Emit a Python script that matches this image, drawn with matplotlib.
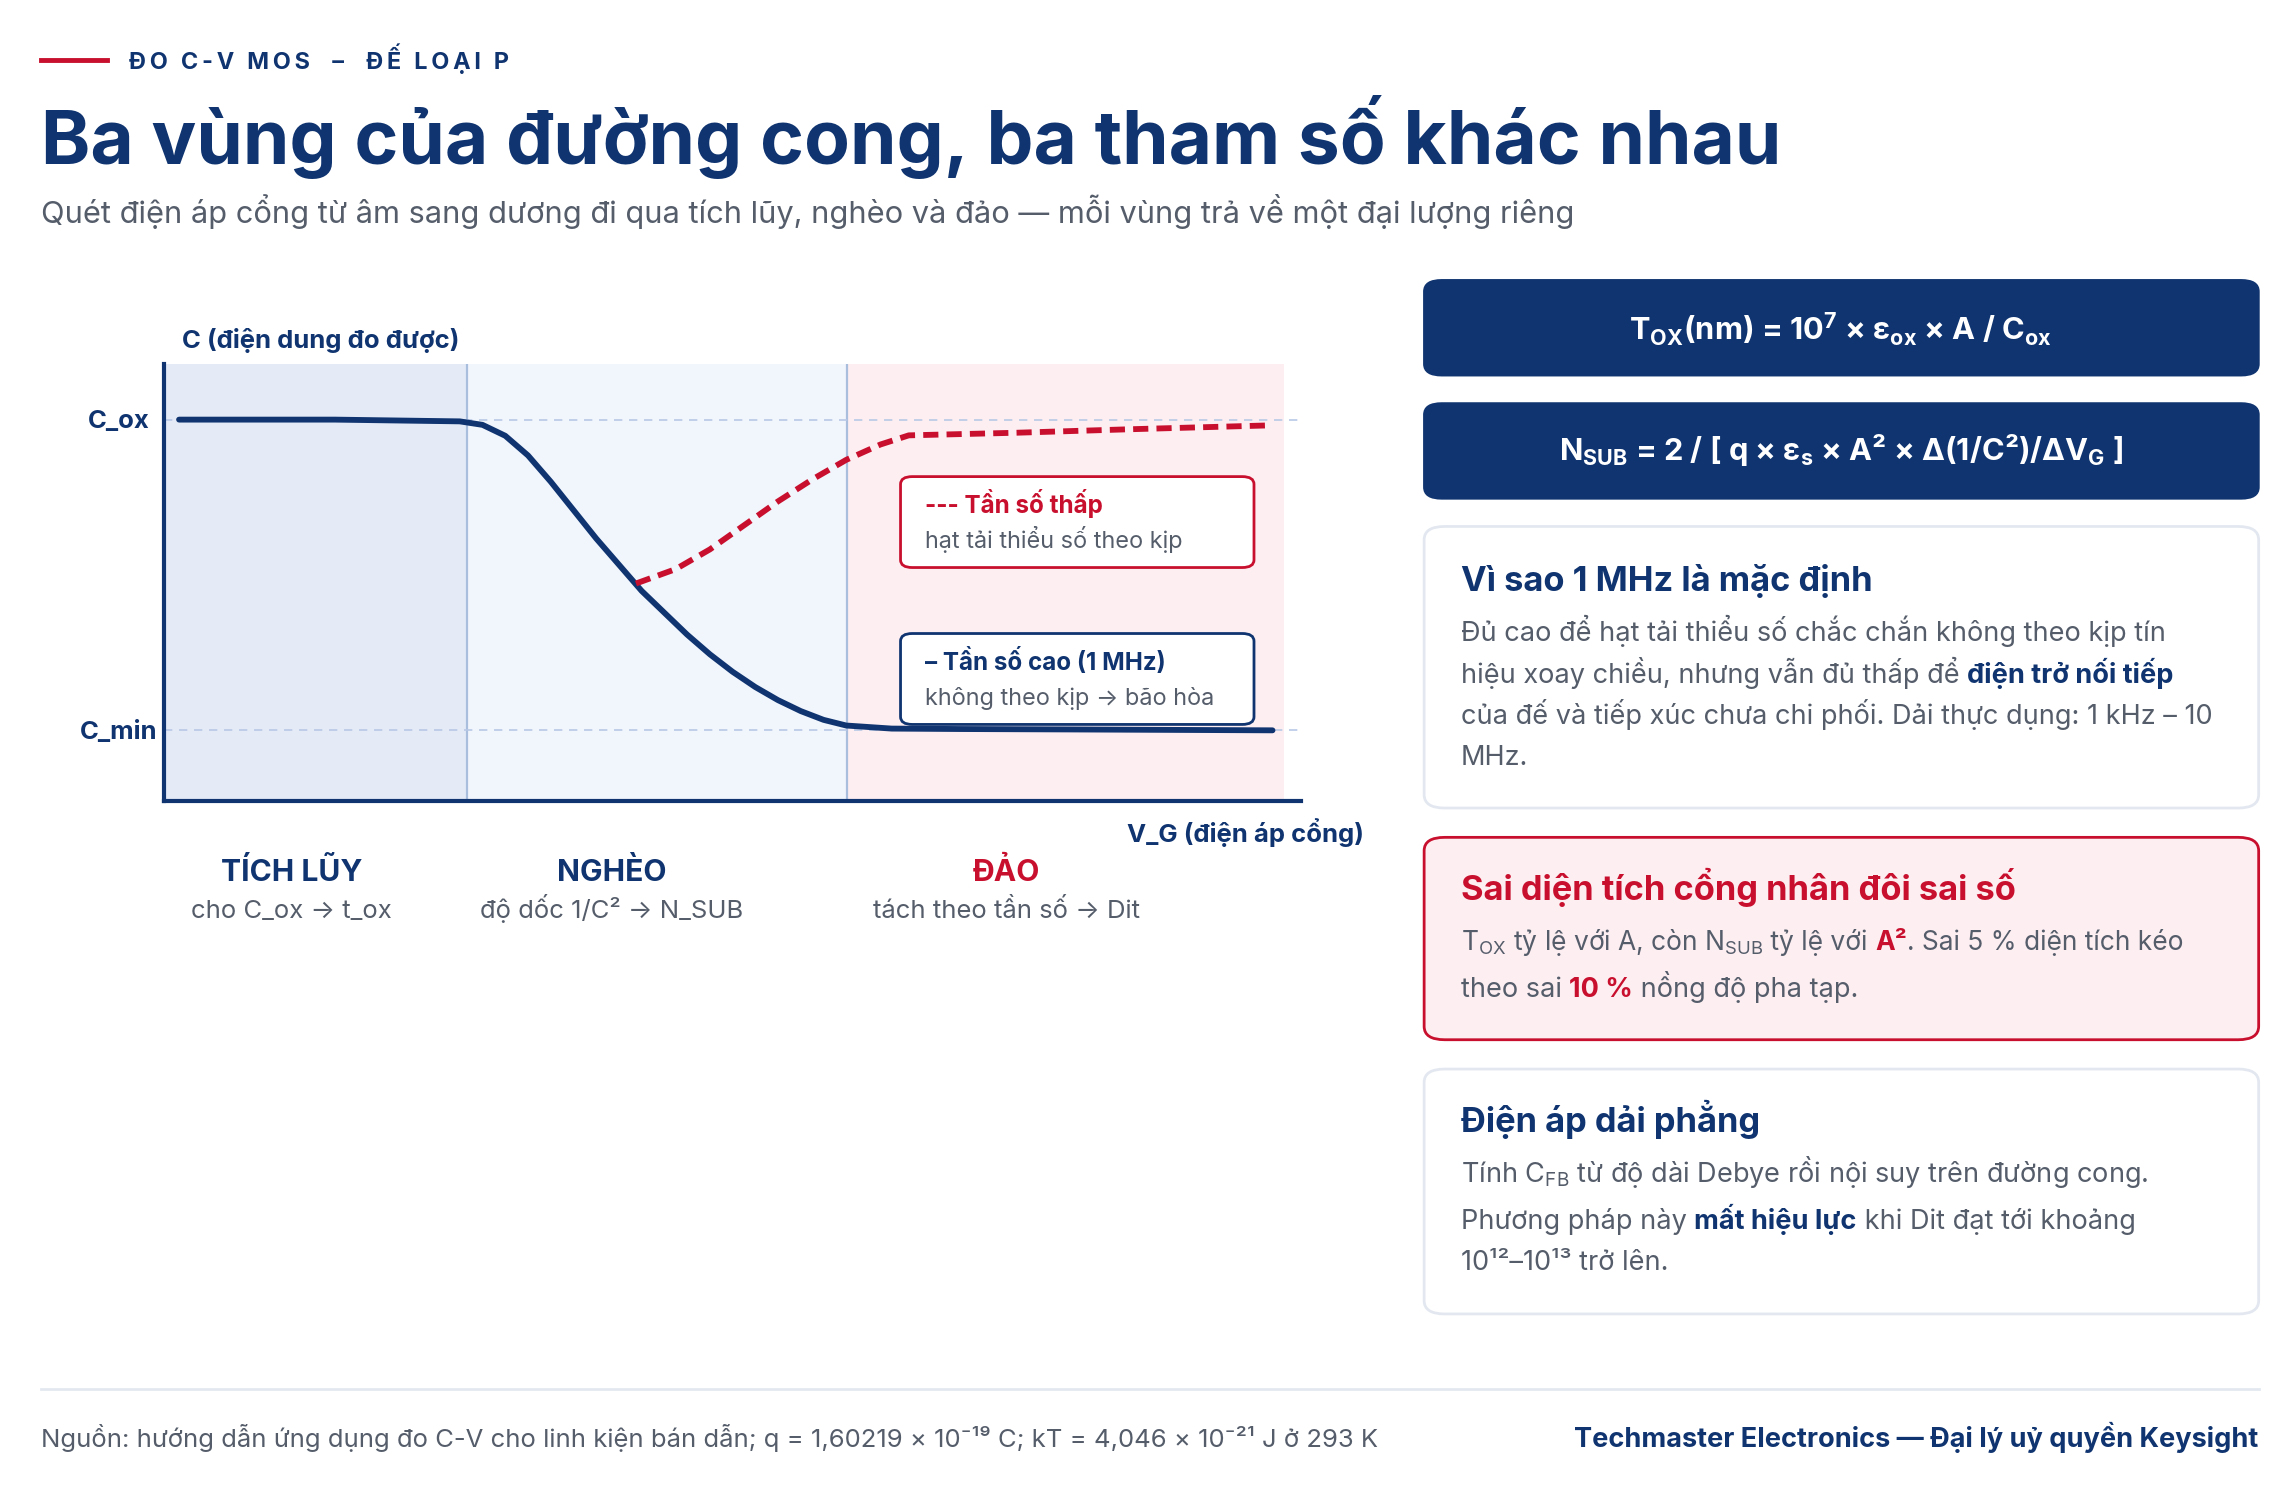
import matplotlib
matplotlib.use("Agg")
import matplotlib.pyplot as plt
from matplotlib.patches import FancyBboxPatch
from matplotlib.lines import Line2D

plt.rcParams['font.family'] = ['Inter', 'DejaVu Sans']
plt.rcParams['mathtext.fontset'] = 'custom'
plt.rcParams['mathtext.rm'] = 'Inter'
plt.rcParams['mathtext.it'] = 'Inter'
plt.rcParams['mathtext.bf'] = 'Inter:bold'

NAVY = '#0f3470'; RED = '#c8102e'; GRAY = '#555d6b'
W, H = 1560, 1014
S = 1.4667 * 0.72

# data
hf_x = [0.13, 1.5, 2.6, 2.8, 3.0, 3.2, 3.4, 3.6, 3.8, 4.0, 4.2, 4.4, 4.6, 4.8, 5.0, 5.2, 5.4, 5.6, 5.8, 6.0, 6.4, 7.0, 8.0, 9.75]
hf_y = [0.872, 0.872, 0.868, 0.86, 0.835, 0.79, 0.73, 0.665, 0.60, 0.54, 0.48, 0.43, 0.38, 0.335, 0.295, 0.26, 0.23, 0.205, 0.185, 0.172, 0.165, 0.164, 0.163, 0.161]
lf_x = [4.15, 4.5, 4.8, 5.1, 5.4, 5.7, 6.0, 6.3, 6.55, 7.5, 8.5, 9.75]
lf_y = [0.497, 0.53, 0.575, 0.63, 0.685, 0.735, 0.78, 0.815, 0.836, 0.842, 0.85, 0.859]
regions = [(0, 2.66, '#e4ebf7'), (2.66, 6.01, '#f1f5fc'), (6.01, 9.85, '#fdeef1')]
C_OX, C_MIN = 0.872, 0.161

fig = plt.figure(figsize=(22.88, 14.87), dpi=100)
R = fig.canvas.get_renderer()

def fx(x): return x / W
def fy(y): return 1 - y / H

def txt(x, y, s, size, color=NAVY, weight='normal', ha='left', va='baseline', **kw):
    return fig.text(fx(x), fy(y), s, fontsize=size * S, color=color, fontweight=weight, ha=ha, va=va, **kw)

def rich(x, y, runs, size):
    cx = x
    for s, c, w in runs:
        t = txt(cx, y, s, size, c, w)
        bb = t.get_window_extent(R)
        cx += bb.width / 1.4667

def box(x0, y0, x1, y1, fc, ec=None, lw=1.5, r=10):
    p = FancyBboxPatch((fx(x0), fy(y1)), fx(x1 - x0), (y1 - y0) / H,
                       boxstyle=f"round,pad=0,rounding_size={r / W}", transform=fig.transFigure,
                       fc=fc, ec=ec if ec else fc, lw=lw, zorder=1)
    fig.add_artist(p)

# header
fig.add_artist(Line2D([fx(28), fx(73)], [fy(41)] * 2, color=RED, lw=3.5, transform=fig.transFigure))
txt(88, 47, '\u2009'.join('ĐO C-V MOS  –  ĐẾ LOẠI P'), 16, NAVY, 'bold')
txt(28, 112, 'Ba vùng của đường cong, ba tham số khác nhau', 51, NAVY, 'bold')
txt(28, 152, 'Quét điện áp cổng từ âm sang dương đi qua tích lũy, nghèo và đảo — mỗi vùng trả về một đại lượng riêng', 21, GRAY)

# chart
ax = fig.add_axes([fx(112), fy(546), fx(887) - fx(112), (546 - 248) / H])
ax.set_xlim(0, 10); ax.set_ylim(0, 1)
for a, b, c in regions:
    ax.axvspan(a, b, color=c, lw=0, zorder=0)
for b in [2.66, 6.01]:
    ax.axvline(b, color='#a9bedd', lw=1.6, zorder=1)
for yv in [C_OX, C_MIN]:
    ax.axhline(yv, color='#b8c8e6', lw=1.2, ls=(0, (5, 4)), zorder=1)
ax.plot(hf_x, hf_y, color=NAVY, lw=4.2, zorder=3, solid_capstyle='round')
ax.plot(lf_x, lf_y, color=RED, lw=4.2, ls=(0, (2.6, 1.4)), zorder=3)
for s in ['top', 'right']:
    ax.spines[s].set_visible(False)
ax.spines['left'].set_color(NAVY); ax.spines['bottom'].set_color(NAVY)
ax.spines['left'].set_linewidth(3); ax.spines['bottom'].set_linewidth(3)
ax.set_xticks([]); ax.set_yticks([])
ax.patch.set_alpha(0)

txt(124, 237, 'C (điện dung đo được)', 17.5, NAVY, 'bold')
txt(102, 292, 'C_ox', 17.5, NAVY, 'bold', ha='right')
txt(107, 504, 'C_min', 17.5, NAVY, 'bold', ha='right')
txt(930, 574, 'V_G (điện áp cổng)', 17.5, NAVY, 'bold', ha='right')

# legends in chart
box(614, 325, 855, 387, 'white', RED, 2, 8)
txt(631, 350, '--- Tần số thấp', 16.5, RED, 'bold')
txt(631, 374, 'hạt tải thiểu số theo kịp', 16, GRAY)
box(614, 432, 855, 494, 'white', NAVY, 2, 8)
txt(631, 457, '– Tần số cao (1 MHz)', 16.5, NAVY, 'bold')
txt(631, 481, 'không theo kịp → bão hòa', 16, GRAY)

# region labels
for cx, t1, t2, col in [(199, 'TÍCH LŨY', 'cho C_ox → t_ox', NAVY), (417, 'NGHÈO', 'độ dốc 1/C² → N_SUB', NAVY),
                        (686, 'ĐẢO', 'tách theo tần số → Dit', RED)]:
    txt(cx, 601, t1, 20.5, col, 'bold', ha='center')
    txt(cx, 626, t2, 17.5, GRAY, ha='center')

# right cards
box(971, 191, 1540, 256, NAVY, r=12)
txt(1255, 232, r'T$_{\mathregular{OX}}$(nm) = 10$^{\mathregular{7}}$ × ε$_{\mathregular{ox}}$ × A / C$_{\mathregular{ox}}$', 21, 'white', 'bold', ha='center')
box(971, 275, 1540, 340, NAVY, r=12)
txt(1255, 314, r'N$_{\mathregular{SUB}}$ = 2 / [ q × ε$_{\mathregular{s}}$ × A² × Δ(1/C²)/ΔV$_{\mathregular{G}}$ ]', 21, 'white', 'bold', ha='center')

box(971, 359, 1540, 551, 'white', '#e3e8f0', 2, 14)
txt(996, 403, 'Vì sao 1 MHz là mặc định', 23.5, NAVY, 'bold')
txt(996, 437, 'Đủ cao để hạt tải thiểu số chắc chắn không theo kịp tín', 18.5, GRAY)
rich(996, 466, [('hiệu xoay chiều, nhưng vẫn đủ thấp để ', GRAY, 'normal'), ('điện trở nối tiếp', NAVY, 'bold')], 18.5)
txt(996, 494, 'của đế và tiếp xúc chưa chi phối. Dải thực dụng: 1 kHz – 10', 18.5, GRAY)
txt(996, 522, 'MHz.', 18.5, GRAY)

box(971, 571, 1540, 709, '#fdeef1', RED, 2, 14)
txt(996, 614, 'Sai diện tích cổng nhân đôi sai số', 23.5, RED, 'bold')
rich(996, 648, [(r'T$_{\mathregular{OX}}$ tỷ lệ với A, còn N$_{\mathregular{SUB}}$', GRAY, 'normal'),
                (' tỷ lệ với ', GRAY, 'normal'), ('A²', RED, 'bold'),
                ('. Sai 5 % diện tích kéo', GRAY, 'normal')], 18)
rich(996, 680, [('theo sai ', GRAY, 'normal'), ('10 %', RED, 'bold'), (' nồng độ pha tạp.', GRAY, 'normal')], 18.5)

box(971, 729, 1540, 896, 'white', '#e3e8f0', 2, 14)
txt(996, 772, 'Điện áp dải phẳng', 23.5, NAVY, 'bold')
txt(996, 806, r'Tính C$_{\mathregular{FB}}$ từ độ dài Debye rồi nội suy trên đường cong.', 18.5, GRAY)
rich(996, 838, [('Phương pháp này ', GRAY, 'normal'), ('mất hiệu lực', NAVY, 'bold'), (' khi Dit đạt tới khoảng', GRAY, 'normal')], 18.5)
txt(996, 866, '10¹²–10¹³ trở lên.', 18.5, GRAY)

# footer
fig.add_artist(Line2D([fx(28), fx(1540)], [fy(947)] * 2, color='#e3e8f0', lw=2, transform=fig.transFigure))
txt(28, 987, 'Nguồn: hướng dẫn ứng dụng đo C-V cho linh kiện bán dẫn; q = 1,60219 × 10⁻¹⁹ C; kT = 4,046 × 10⁻²¹ J ở 293 K', 17.5, GRAY)
txt(1540, 987, 'Techmaster Electronics — Đại lý uỷ quyền Keysight', 18.5, NAVY, 'bold', ha='right')

fig.savefig('out.png', dpi=100, facecolor='white')
